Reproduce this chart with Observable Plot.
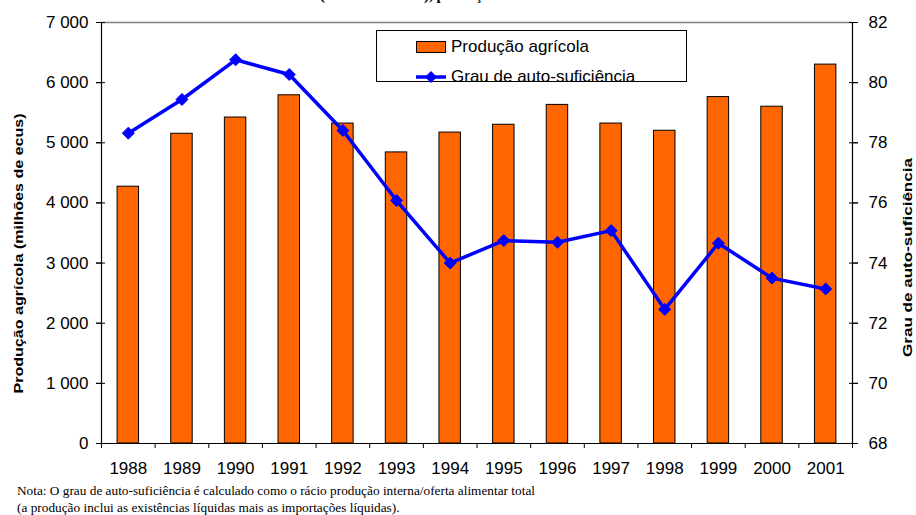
<!DOCTYPE html>
<html><head><meta charset="utf-8">
<script src="https://cdn.jsdelivr.net/npm/d3@7"></script>
<script src="https://cdn.jsdelivr.net/npm/@observablehq/plot@0.6"></script>
<style>
body{margin:0;background:#fff;}
#wrap{position:relative;width:916px;height:515px;overflow:hidden;background:#fff;}
#legend{position:absolute;left:376px;top:30px;width:309px;height:50px;border:1px solid #000;background:#fff;font-family:"Liberation Sans",Arial,sans-serif;font-size:17px;color:#000;}
#legend .row{position:absolute;left:39px;height:20px;display:flex;align-items:center;}
#legend .sw{width:30px;height:12px;margin-right:5px;box-sizing:border-box;border:1px solid #000;background:#FF6600;}
#note{font-family:"Liberation Serif","Times New Roman",serif;font-size:13.3px;line-height:17px;padding-left:17px;color:#000;}
</style></head><body>
<div id="wrap">
<div id="chart"></div>
<div id="legend">
  <div class="row" style="top:6px"><div class="sw"></div><span>Produção agrícola</span></div>
  <div class="row" style="top:36px"><svg width="30" height="14" style="margin-right:5px"><line x1="0" y1="7" x2="30" y2="7" stroke="#0000FF" stroke-width="3.5"/><path d="M15 1 L21 7 L15 13 L9 7 Z" fill="#0000FF"/></svg><span>Grau de auto-suficiência</span></div>
</div>
<div id="note">Nota: O grau de auto-suficiência é calculado como o rácio produção interna/oferta alimentar total<br>(a produção inclui as existências líquidas mais as importações líquidas).</div>
</div>
<script>
const years = [1988,1989,1990,1991,1992,1993,1994,1995,1996,1997,1998,1999,2000,2001];
const producao = [4270,5150,5420,5790,5320,4840,5170,5300,5630,5320,5200,5760,5600,6300];
const grau = [78.32,79.44,80.76,80.27,78.41,76.08,74.00,74.75,74.69,75.08,72.46,74.66,73.50,73.14];
const leftTicks = [0,1000,2000,3000,4000,5000,6000,7000];
const rightTicks = [68,70,72,74,76,78,80,82];
const titleText = "(milhões de ecus), produção e auto-suficiência";
const leftLabel = "Produção agrícola (milhões de ecus)";
const rightLabel = "Grau de auto-suficiência";

const leftMin = leftTicks[0], leftMax = leftTicks[leftTicks.length-1];
const rightMin = rightTicks[0], rightMax = rightTicks[rightTicks.length-1];
const toLeft = v => (v - rightMin) / (rightMax - rightMin) * (leftMax - leftMin) + leftMin;
const rows = years.map((y, i) => ({year: y, producao: producao[i], grau: grau[i]}));
const xDomain = [years[0] - 0.5, years[years.length-1] + 0.5];
const boundaries = d3.range(xDomain[0], xDomain[1] + 0.01, 1);
const fmt = d3.formatLocale({decimal: ",", thousands: " ", grouping: [3], currency: ["", "€"]}).format(",");

const chart = Plot.plot({
  width: 916,
  height: 482,
  marginLeft: 101,
  marginRight: 64,
  marginTop: 22,
  marginBottom: 39,
  style: {fontFamily: "'Liberation Sans', Arial, sans-serif", fontSize: "17px", color: "#000", background: "#fff", overflow: "hidden"},
  x: {type: "linear", domain: xDomain},
  y: {domain: [leftMin, leftMax]},
  marks: [
    Plot.text([titleText], {text: d => d, frameAnchor: "top", dy: -33, dx: -11, fontWeight: "bold", fontSize: 15, fontFamily: "'Liberation Serif', 'Times New Roman', serif"}),
    Plot.ruleY([leftMax], {stroke: "#808080", strokeWidth: 1.5}),
    Plot.rectY(rows, {x1: d => d.year - 0.2, x2: d => d.year + 0.2, y: "producao", fill: "#FF6600", stroke: "#000", strokeWidth: 1}),
    Plot.ruleX(xDomain, {stroke: "#000", strokeWidth: 1.2}),
    Plot.ruleY([leftMin], {stroke: "#000", strokeWidth: 1.2}),
    Plot.line(rows, {x: "year", y: d => toLeft(d.grau), stroke: "#0000FF", strokeWidth: 3.5}),
    Plot.dot(rows, {x: "year", y: d => toLeft(d.grau), symbol: "diamond2", r: 5.4, fill: "#0000FF", stroke: "#0000FF", strokeWidth: 1}),
    Plot.axisY({anchor: "left", ticks: leftTicks, tickSize: 5, tickPadding: 8, tickFormat: fmt, label: null}),
    Plot.axisY({anchor: "left", ticks: leftTicks, tickSize: 9, dx: 4, tickFormat: () => "", label: null}),
    Plot.axisY({anchor: "right", ticks: rightTicks.map(toLeft), tickSize: 5, tickPadding: 11, tickFormat: (d, i) => String(rightTicks[i]), label: null}),
    Plot.axisY({anchor: "right", ticks: rightTicks.map(toLeft), tickSize: 9, dx: -4, tickFormat: () => "", label: null}),
    Plot.axisX({ticks: years, tickSize: 0, tickPadding: 18, tickFormat: d => String(d), label: null}),
    Plot.axisX({ticks: boundaries, tickSize: 5, tickFormat: () => "", label: null}),
    Plot.text([leftLabel], {text: d => d, frameAnchor: "left", textAnchor: "middle", rotate: -90, dx: -83, dy: 20.5, fontWeight: "bold", fontSize: 13.5}),
    Plot.text([rightLabel], {text: d => d, frameAnchor: "right", textAnchor: "middle", rotate: -90, dx: 55, dy: 24.5, fontWeight: "bold", fontSize: 13.5})
  ]
});
// stretch the rotated axis titles along their length, as in the reference
chart.querySelectorAll("text").forEach(t => {
  if (t.textContent === leftLabel) { t.setAttribute("textLength", 280); t.setAttribute("lengthAdjust", "spacingAndGlyphs"); }
  if (t.textContent === rightLabel) { t.setAttribute("textLength", 199); t.setAttribute("lengthAdjust", "spacingAndGlyphs"); }
});
document.getElementById("chart").appendChild(chart);
</script>
</body></html>
